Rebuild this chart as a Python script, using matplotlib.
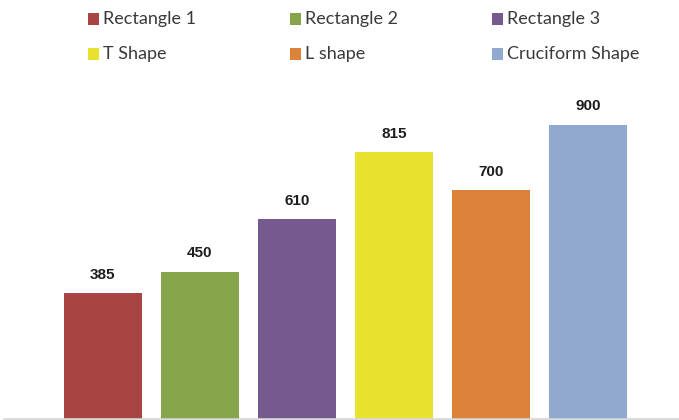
import matplotlib
matplotlib.use("Agg")
import matplotlib.pyplot as plt
from matplotlib.patches import Rectangle

shapes = ["Rectangle 1", "Rectangle 2", "Rectangle 3", "T Shape", "L shape", "Cruciform Shape"]
values = [385, 450, 610, 815, 700, 900]
colors = ["#A84442", "#86A44A", "#75598F", "#E8E22E", "#DC823B", "#91A9D0"]

W, H = 679, 420
fig = plt.figure(figsize=(W / 100, H / 100), dpi=100)
fig.patch.set_facecolor("white")

# plot area: baseline sits at the very bottom of the figure
ax = fig.add_axes([4 / W, 1.5 / H, 1 - 4 / W, 330.5 / H])
pos = list(range(len(values)))
bars = ax.bar(pos, values, width=0.8, color=colors)
ax.set_xlim(-1.02, 5.94)
ax.set_ylim(0, 1012)
for side in ("left", "right", "top"):
    ax.spines[side].set_visible(False)
ax.spines["bottom"].set_color("#D4D4D4")
ax.spines["bottom"].set_linewidth(1.2)
ax.set_xticks([])
ax.set_yticks([])
ax.bar_label(bars, labels=[str(v) for v in values], padding=8,
             fontsize=11, fontweight="bold", family="Liberation Sans",
             color="#1E1E1E")

# two-row legend at the top, three entries per row
col_x = [88, 290, 492]
row_y = [19, 54]
box = 11
for i, (name, c) in enumerate(zip(shapes, colors)):
    r, k = divmod(i, 3)
    x0 = col_x[k]
    yc = row_y[r]
    fig.add_artist(Rectangle((x0 / W, (H - yc - box / 2) / H), box / W, box / H,
                             transform=fig.transFigure, facecolor=c,
                             edgecolor="none"))
    fig.text((x0 + box + 4) / W, (H - yc) / H, name, family="Lato",
             fontsize=13, color="#3A3A3A", va="center", ha="left")

fig.savefig("out.png", dpi=100, facecolor="white")
